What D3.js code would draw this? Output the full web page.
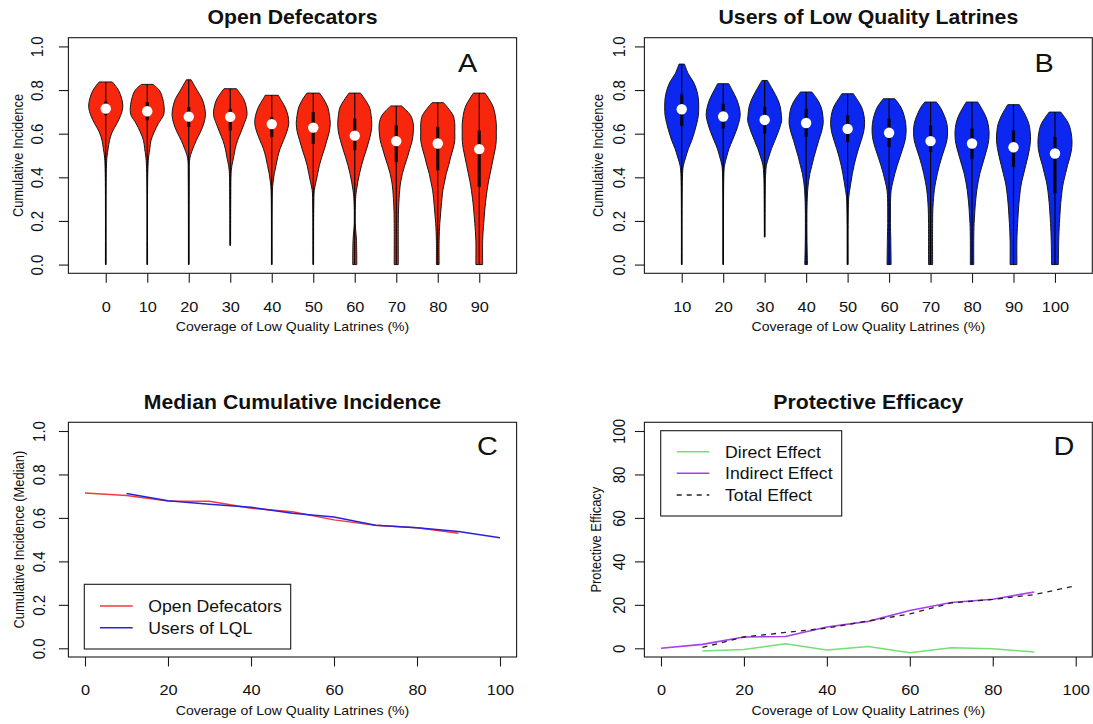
<!DOCTYPE html>
<html>
<head>
<meta charset="utf-8">
<script src="https://cdn.jsdelivr.net/npm/d3@7"></script>
<style>
  body { margin: 0; background: #fff; }
  svg { display: block; }
  text { font-family: "Liberation Sans", Arial, Helvetica, sans-serif; fill: #111; }
</style>
</head>
<body>
<svg id="fig" width="1093" height="724"></svg>
<script>
// ---- data -------------------------------------------------------------
const coverageOD  = [0, 10, 20, 30, 40, 50, 60, 70, 80, 90];
const coverageLQL = [10, 20, 30, 40, 50, 60, 70, 80, 90, 100];

// median cumulative incidence per coverage level
const medianOD  = [0.715, 0.703, 0.678, 0.677, 0.644, 0.628, 0.591, 0.566, 0.555, 0.529];
const medianLQL = [0.712, 0.679, 0.663, 0.649, 0.622, 0.604, 0.566, 0.555, 0.538, 0.509];

// interquartile range per coverage level
const q3OD  = [0.748, 0.745, 0.722, 0.714, 0.676, 0.699, 0.669, 0.638, 0.631, 0.615];
const q1OD  = [0.685, 0.661, 0.631, 0.615, 0.585, 0.554, 0.524, 0.470, 0.432, 0.356];
const q3LQL = [0.780, 0.737, 0.722, 0.714, 0.684, 0.669, 0.638, 0.623, 0.615, 0.585];
const q1LQL = [0.635, 0.623, 0.600, 0.585, 0.562, 0.539, 0.516, 0.485, 0.447, 0.326];

// violin outlines: [cumulative incidence, relative density], max -> min
const shapeOD = [
  [[0.837,0.39],[0.799,0.75],[0.760,0.94],[0.722,1.0],[0.684,0.88],[0.646,0.65],[0.608,0.38],[0.569,0.22],[0.531,0.14],[0.493,0.07],[0.417,0.03],[0,0.02]],
  [[0.826,0.34],[0.799,0.71],[0.760,0.91],[0.707,1.0],[0.684,0.95],[0.646,0.65],[0.608,0.41],[0.569,0.22],[0.531,0.15],[0.493,0.08],[0.417,0.03],[0,0.02]],
  [[0.847,0.14],[0.799,0.49],[0.760,0.78],[0.722,0.93],[0.684,0.98],[0.646,0.88],[0.608,0.69],[0.569,0.44],[0.531,0.24],[0.505,0.12],[0.478,0.05],[0.400,0.03],[0,0.02]],
  [[0.806,0.37],[0.760,0.78],[0.722,0.94],[0.684,0.98],[0.646,0.82],[0.608,0.63],[0.569,0.43],[0.531,0.29],[0.493,0.20],[0.455,0.10],[0.417,0.05],[0.300,0.03],[0.088,0.02]],
  [[0.776,0.39],[0.760,0.50],[0.722,0.78],[0.684,0.95],[0.646,1.0],[0.608,0.88],[0.569,0.69],[0.531,0.49],[0.493,0.35],[0.455,0.25],[0.417,0.15],[0.379,0.08],[0.340,0.04],[0,0.02]],
  [[0.786,0.37],[0.760,0.60],[0.722,0.85],[0.684,0.95],[0.646,1.0],[0.608,0.94],[0.569,0.80],[0.531,0.66],[0.493,0.50],[0.455,0.36],[0.417,0.26],[0.379,0.16],[0.340,0.06],[0.264,0.03],[0,0.02]],
  [[0.786,0.34],[0.722,0.86],[0.684,0.96],[0.646,1.0],[0.608,0.96],[0.569,0.84],[0.531,0.70],[0.493,0.54],[0.455,0.40],[0.417,0.28],[0.379,0.18],[0.340,0.10],[0.302,0.05],[0.188,0.03],[0.111,0.10],[0,0.12]],
  [[0.727,0.32],[0.684,0.84],[0.646,1.0],[0.608,1.0],[0.569,0.94],[0.531,0.80],[0.493,0.66],[0.455,0.50],[0.417,0.36],[0.379,0.26],[0.340,0.20],[0.264,0.14],[0.188,0.12],[0,0.12]],
  [[0.742,0.34],[0.684,0.90],[0.646,1.0],[0.608,1.0],[0.569,1.0],[0.531,0.90],[0.493,0.76],[0.455,0.64],[0.417,0.50],[0.379,0.40],[0.340,0.30],[0.264,0.20],[0.188,0.12],[0.111,0.08],[0,0.08]],
  [[0.786,0.34],[0.722,0.82],[0.646,1.0],[0.608,1.0],[0.569,1.0],[0.531,0.94],[0.493,0.84],[0.455,0.74],[0.417,0.64],[0.379,0.54],[0.340,0.46],[0.264,0.34],[0.188,0.26],[0.111,0.20],[0,0.20]]
];
const shapeLQL = [
  [[0.919,0.16],[0.874,0.39],[0.837,0.69],[0.799,0.88],[0.760,0.98],[0.722,1.0],[0.684,0.98],[0.646,0.88],[0.608,0.75],[0.569,0.59],[0.531,0.39],[0.493,0.24],[0.455,0.10],[0.417,0.05],[0,0.02]],
  [[0.829,0.33],[0.799,0.53],[0.760,0.78],[0.722,0.94],[0.684,1.0],[0.646,0.90],[0.608,0.74],[0.569,0.54],[0.531,0.34],[0.493,0.20],[0.455,0.08],[0.417,0.04],[0,0.02]],
  [[0.844,0.16],[0.799,0.49],[0.760,0.75],[0.722,0.92],[0.684,0.98],[0.661,1.0],[0.646,0.96],[0.608,0.80],[0.569,0.60],[0.531,0.40],[0.493,0.24],[0.455,0.10],[0.417,0.06],[0.379,0.04],[0.126,0.02]],
  [[0.791,0.34],[0.760,0.63],[0.722,0.88],[0.684,0.98],[0.646,1.0],[0.608,0.90],[0.569,0.74],[0.531,0.60],[0.493,0.46],[0.455,0.34],[0.417,0.22],[0.379,0.14],[0.340,0.09],[0.264,0.05],[0.111,0.05],[0,0.08]],
  [[0.783,0.34],[0.760,0.53],[0.722,0.82],[0.684,0.96],[0.646,1.0],[0.608,0.94],[0.569,0.80],[0.531,0.64],[0.493,0.50],[0.455,0.38],[0.417,0.28],[0.379,0.20],[0.340,0.12],[0.302,0.06],[0,0.03]],
  [[0.760,0.34],[0.722,0.69],[0.684,0.88],[0.646,0.98],[0.608,1.0],[0.569,0.94],[0.531,0.80],[0.493,0.64],[0.455,0.48],[0.417,0.34],[0.379,0.22],[0.340,0.12],[0.264,0.08],[0.188,0.08],[0.111,0.10],[0,0.12]],
  [[0.745,0.34],[0.722,0.56],[0.684,0.80],[0.646,0.96],[0.608,1.0],[0.569,0.96],[0.531,0.82],[0.493,0.66],[0.455,0.52],[0.417,0.40],[0.379,0.30],[0.340,0.22],[0.264,0.14],[0.188,0.12],[0,0.12]],
  [[0.745,0.34],[0.684,0.78],[0.646,0.94],[0.608,1.0],[0.569,0.98],[0.531,0.88],[0.493,0.74],[0.455,0.60],[0.417,0.46],[0.379,0.36],[0.340,0.28],[0.264,0.18],[0.188,0.12],[0.111,0.10],[0,0.10]],
  [[0.733,0.34],[0.684,0.70],[0.646,0.90],[0.608,0.98],[0.569,1.0],[0.531,0.94],[0.493,0.84],[0.455,0.72],[0.417,0.60],[0.379,0.48],[0.340,0.40],[0.264,0.30],[0.188,0.24],[0.111,0.20],[0,0.20]],
  [[0.699,0.34],[0.646,0.80],[0.608,0.94],[0.569,1.0],[0.531,0.98],[0.493,0.88],[0.455,0.74],[0.417,0.62],[0.379,0.50],[0.340,0.42],[0.264,0.32],[0.188,0.26],[0.111,0.22],[0,0.20]]
];

// protective efficacy (%)
const coverageIndirect = [0, 10, 20, 30, 40, 50, 60, 70, 80, 90];
const indirectEffect   = [0, 1.8, 5.2, 5.4, 9.8, 12.4, 17.4, 21.1, 22.6, 25.9];
const coverageDirect   = [10, 20, 30, 40, 50, 60, 70, 80, 90];
const directEffect     = [-1.2, -0.5, 2.1, -0.8, 0.8, -2.0, 0.3, -0.2, -1.7];
const coverageTotal    = [10, 20, 30, 40, 50, 60, 70, 80, 90, 100];
const totalEffect      = [0.4, 5.2, 7.3, 9.3, 12.6, 15.8, 20.9, 22.5, 24.7, 28.8];

const ciTicks  = [0, 0.2, 0.4, 0.6, 0.8, 1.0];
const pctTicks = [0, 20, 40, 60, 80, 100];

// ---- drawing helpers --------------------------------------------------
const SX = 1.09;   // horizontal glyph stretch of the figure's lettering
const svg = d3.select("#fig");
const INK = "#1a1a1a";

function label(g, x, y, str, size, opts = {}) {
  const t = g.append("text")
    .attr("transform", `translate(${x},${y}) scale(${SX},1)` + (opts.rotate ? ` rotate(${opts.rotate})` : ""))
    .attr("text-anchor", opts.anchor || "middle")
    .style("font-size", size + "px")
    .text(str);
  if (opts.bold) t.style("font-weight", "bold");
  return t;
}

function frame(g, p) {
  g.append("rect")
    .attr("x", p.left).attr("y", p.top)
    .attr("width", p.right - p.left).attr("height", p.bottom - p.top)
    .attr("fill", "none").attr("stroke", INK).attr("stroke-width", 1.1);
}

function styleAxis(ax) {
  ax.attr("font-size", null).attr("font-family", null);
  ax.select(".domain").remove();
  ax.selectAll(".tick line").attr("stroke", INK).attr("stroke-width", 1.1);
  ax.selectAll(".tick text").attr("fill", null);
}

function xAxis(g, p, x, values, fmt) {
  const ax = g.append("g").attr("transform", `translate(0,${p.bottom})`)
    .call(d3.axisBottom(x).tickValues(values).tickFormat(fmt).tickSize(9.5).tickSizeOuter(0));
  styleAxis(ax);
  ax.selectAll(".tick text")
    .attr("y", null).attr("dy", null)
    .attr("text-anchor", "middle")
    .attr("transform", `translate(0,38.4) scale(${SX},1)`)
    .style("font-size", "15px");
  label(g, (p.left + p.right) / 2, p.bottom + 57.5, "Coverage of Low Quality Latrines (%)", 12.9);
}

function yAxis(g, p, y, values, fmt, title) {
  const ax = g.append("g").attr("transform", `translate(${p.left},0)`)
    .call(d3.axisLeft(y).tickValues(values).tickFormat(fmt).tickSize(9.5).tickSizeOuter(0));
  styleAxis(ax);
  ax.selectAll(".tick text")
    .attr("x", null).attr("dy", null)
    .attr("text-anchor", "middle")
    .attr("transform", `translate(${-p.labelGap},0) scale(${SX},1) rotate(-90)`)
    .style("font-size", "15px");
  label(g, p.yTitleX, (p.top + p.bottom) / 2, title, 12.9, { rotate: -90 });
}

function headings(g, p, title, letter) {
  label(g, (p.left + p.right) / 2, p.top - 13.7, title, 19.5, { bold: true });
  label(g, p.letterX, p.letterY, letter, 26.5);
}

// ---- violin panels (A, B) --------------------------------------------
function violinPanel(p, cats, shapes, med, q1, q3, fill, title, letter) {
  const g = svg.append("g");
  const x = d3.scaleLinear().domain([0.1, cats.length + 0.9]).range([p.left, p.right]);
  const y = d3.scaleLinear().domain([-0.04, 1.04]).range([p.bottom, p.top]);
  const half = 0.41 * (x(2) - x(1));

  cats.forEach((c, i) => {
    const cx = x(i + 1);
    const shape = shapes[i];
    const area = d3.area()
      .y(d => y(d[0]))
      .x0(d => cx - d[1] * half)
      .x1(d => cx + d[1] * half)
      .curve(d3.curveCatmullRom.alpha(0.5));
    g.append("path").attr("d", area(shape))
      .attr("fill", fill).attr("stroke", "#161616").attr("stroke-width", 1);
    g.append("line")
      .attr("x1", cx).attr("x2", cx)
      .attr("y1", y(shape[0][0])).attr("y2", y(shape[shape.length - 1][0]))
      .attr("stroke", "#000").attr("stroke-width", 1.1);
    g.append("rect")
      .attr("x", cx - 1.6).attr("width", 3.2)
      .attr("y", y(q3[i])).attr("height", y(q1[i]) - y(q3[i]))
      .attr("fill", "#000").attr("fill-opacity", 0.85);
    g.append("circle").attr("cx", cx).attr("cy", y(med[i])).attr("r", 5.2)
      .attr("fill", "#fff");
  });

  frame(g, p);
  xAxis(g, p, x, d3.range(1, cats.length + 1), i => cats[i - 1]);
  yAxis(g, p, y, ciTicks, d3.format(".1f"), "Cumulative Incidence");
  headings(g, p, title, letter);
}

const panelA = { left: 68.4, right: 516.6, top: 37.7, bottom: 273.3, labelGap: 25.5, yTitleX: 23, letterX: 467.5, letterY: 71.7 };
const panelB = { left: 644.4, right: 1092.3, top: 37.7, bottom: 273.3, labelGap: 19, yTitleX: 603, letterX: 1044, letterY: 72 };
const panelC = { left: 68.4, right: 516.6, top: 422.3, bottom: 657, labelGap: 23.5, yTitleX: 23.5, letterX: 487.5, letterY: 455 };
const panelD = { left: 644.4, right: 1092.3, top: 422.3, bottom: 657, labelGap: 19, yTitleX: 600.5, letterX: 1064, letterY: 455 };

violinPanel(panelA, coverageOD, shapeOD, medianOD, q1OD, q3OD, "#f8260c", "Open Defecators", "A");
violinPanel(panelB, coverageLQL, shapeLQL, medianLQL, q1LQL, q3LQL, "#0b27f0", "Users of Low Quality Latrines", "B");

// ---- line panels (C, D) ----------------------------------------------
function legend(g, box, rows) {
  g.append("rect").attr("x", box.x).attr("y", box.y).attr("width", box.w).attr("height", box.h)
    .attr("fill", "#fff").attr("stroke", INK).attr("stroke-width", 1.1);
  rows.forEach((r, i) => {
    const ry = box.firstRow + i * box.step;
    g.append("line").attr("x1", box.lineX0).attr("x2", box.lineX1).attr("y1", ry).attr("y2", ry)
      .attr("stroke", r.color).attr("stroke-width", 1.5).attr("stroke-dasharray", r.dash || null);
    label(g, box.textX, ry + 5.8, r.text, 16.2, { anchor: "start" });
  });
}

// C: median cumulative incidence
(function () {
  const p = panelC;
  const g = svg.append("g");
  const x = d3.scaleLinear().domain([-4, 104]).range([p.left, p.right]);
  const y = d3.scaleLinear().domain([-0.04, 1.04]).range([p.bottom, p.top]);
  const line = d3.line().x(d => x(d[0])).y(d => y(d[1]));
  g.append("path").attr("d", line(d3.zip(coverageOD, medianOD)))
    .attr("fill", "none").attr("stroke", "#f23a3a").attr("stroke-width", 1.5);
  g.append("path").attr("d", line(d3.zip(coverageLQL, medianLQL)))
    .attr("fill", "none").attr("stroke", "#2a22d8").attr("stroke-width", 1.5);
  frame(g, p);
  xAxis(g, p, x, pctTicks, d3.format("d"));
  yAxis(g, p, y, ciTicks, d3.format(".1f"), "Cumulative Incidence (Median)");
  headings(g, p, "Median Cumulative Incidence", "C");
  legend(g, { x: 84.3, y: 584.3, w: 206.4, h: 64.7, firstRow: 606, step: 21.7, lineX0: 100, lineX1: 132.7, textX: 148.3 }, [
    { text: "Open Defecators", color: "#f23a3a" },
    { text: "Users of LQL", color: "#2a22d8" }
  ]);
})();

// D: protective efficacy
(function () {
  const p = panelD;
  const g = svg.append("g");
  const x = d3.scaleLinear().domain([-4, 104]).range([p.left, p.right]);
  const y = d3.scaleLinear().domain([-4, 104]).range([p.bottom, p.top]);
  const line = d3.line().x(d => x(d[0])).y(d => y(d[1]));
  g.append("path").attr("d", line(d3.zip(coverageDirect, directEffect)))
    .attr("fill", "none").attr("stroke", "#74e074").attr("stroke-width", 1.5);
  g.append("path").attr("d", line(d3.zip(coverageIndirect, indirectEffect)))
    .attr("fill", "none").attr("stroke", "#a53ff0").attr("stroke-width", 1.6);
  g.append("path").attr("d", line(d3.zip(coverageTotal, totalEffect)))
    .attr("fill", "none").attr("stroke", "#222").attr("stroke-width", 1.3).attr("stroke-dasharray", "5,5");
  frame(g, p);
  xAxis(g, p, x, pctTicks, d3.format("d"));
  yAxis(g, p, y, pctTicks, d3.format("d"), "Protective Efficacy");
  headings(g, p, "Protective Efficacy", "D");
  legend(g, { x: 660.7, y: 430.7, w: 181, h: 85.3, firstRow: 451.7, step: 21.65, lineX0: 676.7, lineX1: 709.3, textX: 725 }, [
    { text: "Direct Effect", color: "#74e074" },
    { text: "Indirect Effect", color: "#a53ff0" },
    { text: "Total Effect", color: "#222", dash: "5,5" }
  ]);
})();
</script>
</body>
</html>
